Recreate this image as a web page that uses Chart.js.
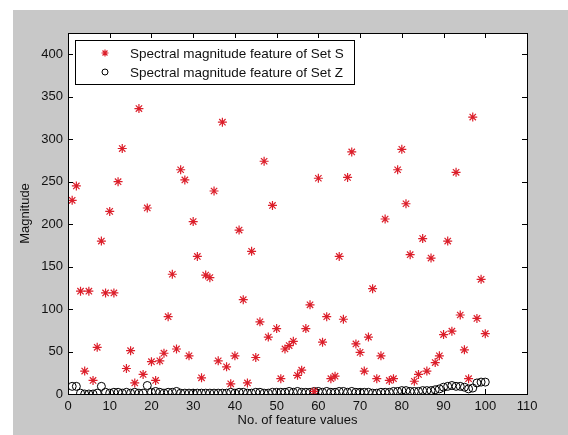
<!DOCTYPE html>
<html>
<head>
<meta charset="utf-8">
<script src="https://cdn.jsdelivr.net/npm/chart.js@4"></script>
<style>
  html, body { margin: 0; padding: 0; background: #ffffff; }
  #wrap { width: 568px; height: 435px; }
</style>
</head>
<body>
<div id="wrap"><canvas id="scatter-chart" width="568" height="435"></canvas></div>
<script>
// feature index 1..100
var featureIndex = [];
for (var i = 1; i <= 100; i++) featureIndex.push(i);

var setS = [228, 245, 121, 27, 121, 16, 55, 180, 119, 215,
            119, 250, 289, 30, 51, 13, 336, 23, 219, 38,
            16, 39, 48, 91, 141, 53, 264, 252, 45, 203,
            162, 19, 140, 137, 239, 39, 320, 32, 12, 45,
            193, 111, 13, 168, 43, 85, 274, 67, 222, 77,
            18, 53, 57, 62, 22, 28, 77, 105, 3, 254,
            61, 91, 18, 21, 162, 88, 255, 285, 59, 49,
            27, 67, 124, 18, 45, 206, 16, 18, 264, 288,
            224, 164, 15, 23, 183, 27, 160, 37, 45, 70,
            180, 74, 261, 93, 52, 18, 326, 89, 135, 71];

var setZ = [9, 9, 1, 0, 0, 0, 1, 9, 2, 1,
            2, 2, 1, 2, 1, 2, 1, 1, 10, 2,
            3, 2, 1, 2, 2, 3, 1, 1, 1, 1,
            1, 1, 1, 1, 1, 1, 1, 1, 2, 1,
            2, 2, 1, 1, 2, 2, 1, 1, 2, 2,
            2, 2, 3, 2, 3, 2, 2, 2, 3, 3,
            2, 3, 2, 2, 3, 3, 2, 3, 2, 2,
            2, 2, 1, 1, 2, 2, 2, 3, 3, 4,
            4, 3, 3, 3, 4, 4, 4, 5, 6, 8,
            9, 10, 9, 9, 8, 6, 7, 13, 14, 14];

var xTicks = [0, 10, 20, 30, 40, 50, 60, 70, 80, 90, 100, 110];
var yTicks = [0, 50, 100, 150, 200, 250, 300, 350, 400];

var labelS = "Spectral magnitude feature of Set S";
var labelZ = "Spectral magnitude feature of Set Z";

function toPoints(xs, ys) {
    return xs.map(function(x, k) { return { x: x, y: ys[k] }; });
}

var FONT = "Arial, 'Liberation Sans', Helvetica, sans-serif";
var RED = "#dc1e2a";

// matlab-like frame: gray figure, white axes, boxed with inward ticks, legend inside
var matlabFrame = {
    id: 'matlabFrame',
    beforeDraw: function(chart) {
        var ctx = chart.ctx, a = chart.chartArea;
        ctx.save();
        ctx.fillStyle = "#c8c8c8";
        ctx.fillRect(13, 10, chart.width - 13, chart.height - 10);
        ctx.fillStyle = "#ffffff";
        ctx.fillRect(a.left, a.top, a.right - a.left, a.bottom - a.top);
        ctx.restore();
    },
    afterDraw: function(chart) {
        var ctx = chart.ctx, a = chart.chartArea;
        var xs = chart.scales.x, ys = chart.scales.y;
        ctx.save();
        ctx.strokeStyle = "#000000";
        ctx.lineWidth = 1;
        ctx.strokeRect(Math.round(a.left) + 0.5, Math.round(a.top) + 0.5,
                       Math.round(a.right - a.left), Math.round(a.bottom - a.top));
        ctx.beginPath();
        xTicks.forEach(function(v) {
            var px = Math.round(xs.getPixelForValue(v)) + 0.5;
            ctx.moveTo(px, a.bottom); ctx.lineTo(px, a.bottom - 5);
            ctx.moveTo(px, a.top); ctx.lineTo(px, a.top + 5);
        });
        yTicks.forEach(function(v) {
            var py = Math.round(ys.getPixelForValue(v)) + 0.5;
            ctx.moveTo(a.left, py); ctx.lineTo(a.left + 5, py);
            ctx.moveTo(a.right, py); ctx.lineTo(a.right - 5, py);
        });
        ctx.stroke();

        // legend box
        var bx = 75.5, by = 40.5, bw = 279, bh = 44;
        ctx.fillStyle = "#ffffff";
        ctx.fillRect(bx, by, bw, bh);
        ctx.strokeRect(bx, by, bw, bh);
        ctx.font = "13.5px " + FONT;
        ctx.textBaseline = "middle";
        ctx.textAlign = "left";
        var ds = chart.data.datasets;
        var rows = [53, 72];
        ds.forEach(function(d, k) {
            ctx.strokeStyle = d.borderColor;
            ctx.fillStyle = k === 0 ? d.backgroundColor : "#ffffff";
            ctx.lineWidth = d.borderWidth;
            Chart.helpers.drawPoint(ctx, {
                pointStyle: d.pointStyle,
                radius: k === 0 ? 3.5 : 3,
                borderWidth: d.borderWidth
            }, 105, rows[k]);
            ctx.fillStyle = "#111111";
            ctx.fillText(d.label, 130, rows[k] + 1);
        });
        ctx.restore();
    }
};

new Chart(document.getElementById("scatter-chart"), {
    type: 'scatter',
    data: {
        datasets: [
            {
                label: labelS,
                data: toPoints(featureIndex, setS),
                pointStyle: 'star',
                pointRadius: 4.5,
                borderColor: RED,
                backgroundColor: RED,
                borderWidth: 1.2
            },
            {
                label: labelZ,
                data: toPoints(featureIndex, setZ),
                pointStyle: 'circle',
                pointRadius: 4,
                borderColor: "#000000",
                backgroundColor: "rgba(255,255,255,0)",
                borderWidth: 1
            }
        ]
    },
    options: {
        responsive: false,
        animation: false,
        layout: { padding: { left: 18, top: 33, right: 41, bottom: 7 } },
        plugins: {
            legend: { display: false },
            tooltip: { enabled: false }
        },
        scales: {
            x: {
                type: 'linear',
                min: 0,
                max: 110,
                afterFit: function(axis) { axis.height = 34; },
                afterBuildTicks: function(axis) {
                    axis.ticks = xTicks.map(function(v) { return { value: v }; });
                },
                grid: { display: false, drawTicks: false },
                border: { display: false },
                ticks: { color: "#111111", padding: 5, font: { family: FONT, size: 13 } },
                title: {
                    display: true,
                    text: "No. of feature values",
                    color: "#111111",
                    padding: 0,
                    font: { family: FONT, size: 13 }
                }
            },
            y: {
                min: 0,
                max: 425,
                afterFit: function(axis) { axis.width = 50; },
                afterBuildTicks: function(axis) {
                    axis.ticks = yTicks.map(function(v) { return { value: v }; });
                },
                grid: { display: false, drawTicks: false },
                border: { display: false },
                ticks: { color: "#111111", padding: 5, font: { family: FONT, size: 13 } },
                title: {
                    display: true,
                    text: "Magnitude",
                    color: "#111111",
                    padding: 0,
                    font: { family: FONT, size: 13 }
                }
            }
        }
    },
    plugins: [matlabFrame]
});
</script>
</body>
</html>
